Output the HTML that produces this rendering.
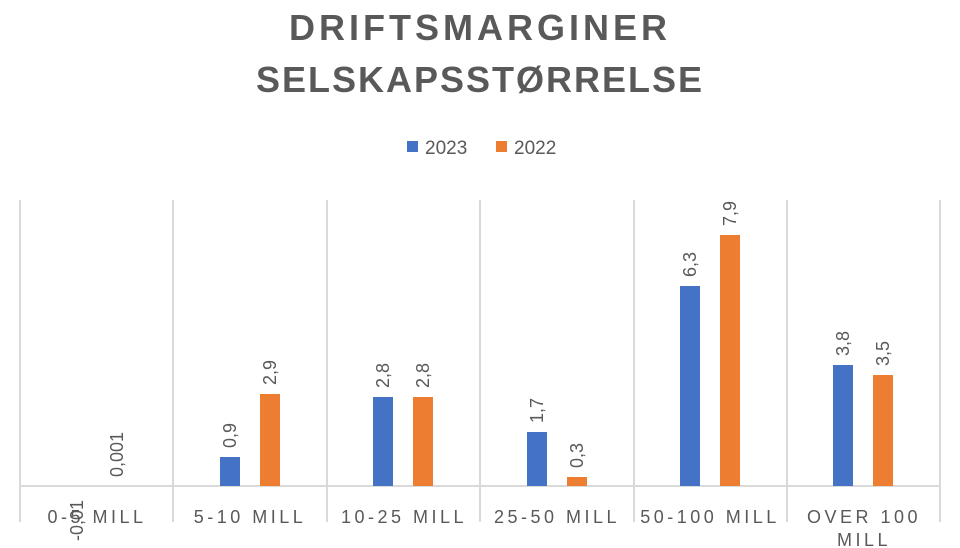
<!DOCTYPE html>
<html><head><meta charset="utf-8"><style>body{margin:0;background:#fff}svg{display:block}</style></head><body>
<svg width="960" height="548" xmlns="http://www.w3.org/2000/svg" font-family="Liberation Sans, sans-serif">
<rect width="960" height="548" fill="#fff"/>
<text x="480" y="40" text-anchor="middle" font-size="36" font-weight="bold" fill="#595959" letter-spacing="4">DRIFTSMARGINER</text>
<text x="480" y="92" text-anchor="middle" font-size="36" font-weight="bold" fill="#595959" letter-spacing="2">SELSKAPSSTØRRELSE</text>
<rect x="407" y="141" width="11" height="11" fill="#4472C4"/>
<text x="425" y="154" font-size="19" fill="#595959">2023</text>
<rect x="496" y="141" width="11" height="11" fill="#ED7D31"/>
<text x="514" y="154" font-size="19" fill="#595959">2022</text>
<g stroke="#d9d9d9" stroke-width="2">
<line x1="20" y1="200" x2="20" y2="522"/><line x1="173" y1="200" x2="173" y2="522"/>
<line x1="327" y1="200" x2="327" y2="522"/><line x1="480" y1="200" x2="480" y2="522"/>
<line x1="634" y1="200" x2="634" y2="522"/><line x1="787" y1="200" x2="787" y2="522"/>
<line x1="940" y1="200" x2="940" y2="522"/>
<line x1="20" y1="486" x2="940" y2="486"/>
</g>
<g>
<rect x="220" y="457" width="20" height="29" fill="#4472C4"/>
<rect x="260" y="394" width="20" height="92" fill="#ED7D31"/>
<rect x="373" y="397" width="20" height="89" fill="#4472C4"/>
<rect x="413" y="397" width="20" height="89" fill="#ED7D31"/>
<rect x="527" y="432" width="20" height="54" fill="#4472C4"/>
<rect x="567" y="477" width="20" height="9" fill="#ED7D31"/>
<rect x="680" y="286" width="20" height="200" fill="#4472C4"/>
<rect x="720" y="235" width="20" height="251" fill="#ED7D31"/>
<rect x="833" y="365" width="20" height="121" fill="#4472C4"/>
<rect x="873" y="375" width="20" height="111" fill="#ED7D31"/>
</g>
<g font-size="18" fill="#595959" dominant-baseline="central">
<text transform="translate(77,500) rotate(-90)" text-anchor="end">-0,01</text>
<text transform="translate(117,477) rotate(-90)">0,001</text>
<text transform="translate(230,448) rotate(-90)">0,9</text>
<text transform="translate(270,385) rotate(-90)">2,9</text>
<text transform="translate(383,388) rotate(-90)">2,8</text>
<text transform="translate(423,388) rotate(-90)">2,8</text>
<text transform="translate(537,423) rotate(-90)">1,7</text>
<text transform="translate(577,468) rotate(-90)">0,3</text>
<text transform="translate(690,277) rotate(-90)">6,3</text>
<text transform="translate(730,226) rotate(-90)">7,9</text>
<text transform="translate(843,356) rotate(-90)">3,8</text>
<text transform="translate(883,366) rotate(-90)">3,5</text>
</g>
<g font-size="18" fill="#595959" text-anchor="middle" letter-spacing="3.5">
<text x="97" y="523">0-5 MILL</text>
<text x="250" y="523">5-10 MILL</text>
<text x="404" y="523">10-25 MILL</text>
<text x="557" y="523">25-50 MILL</text>
<text x="710" y="523">50-100 MILL</text>
<text x="864" y="523">OVER 100</text>
<text x="864" y="546">MILL</text>
</g>
</svg>
</body></html>
